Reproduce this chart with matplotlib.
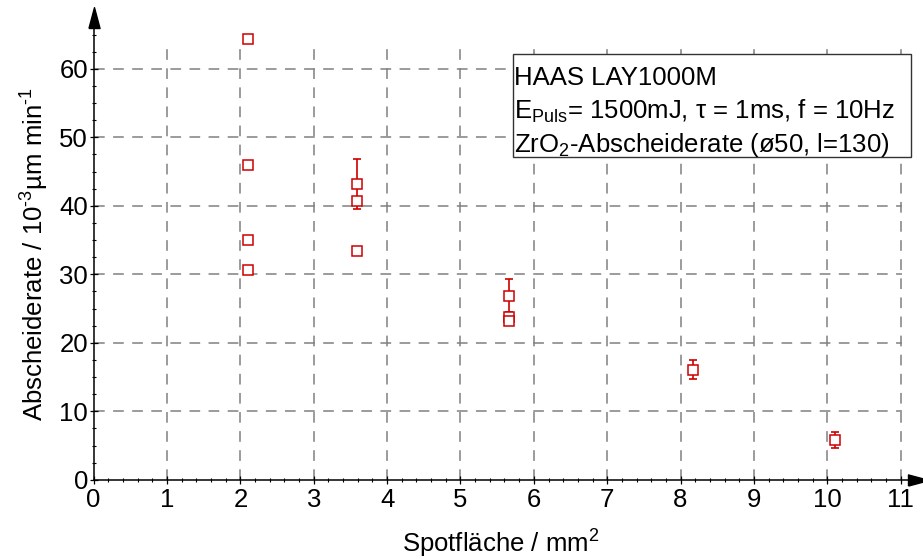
import matplotlib
matplotlib.use("Agg")
import matplotlib.pyplot as plt
import numpy as np
from matplotlib.patches import Rectangle

plt.rcParams['font.family'] = ['Liberation Sans', 'DejaVu Sans']
plt.rcParams['mathtext.fontset'] = 'custom'
plt.rcParams['mathtext.rm'] = 'Liberation Sans'
plt.rcParams['mathtext.it'] = 'Liberation Sans:italic'

# data
spot_area = [2.10, 2.10, 2.10, 2.10, 3.59, 3.59, 3.59, 5.66, 5.66, 5.66, 8.17, 10.10]
rate = [64.3, 45.9, 35.0, 30.7, 43.2, 40.7, 33.4, 26.9, 23.7, 23.2, 16.1, 5.8]
rate_err = [0, 0, 0, 0, 3.6, 0, 0, 2.4, 0, 0, 1.4, 1.2]

x_ticks = list(range(0, 12))
y_ticks = [0, 10, 20, 30, 40, 50, 60]

box_lines = ["HAAS LAY1000M",
             "E$_\\mathregular{Puls}$= 1500mJ, τ = 1ms, f = 10Hz",
             "ZrO$_\\mathregular{2}$-Abscheiderate (ø50, l=130)"]

red = '#cc0000'
grid_col = '#808080'

fig = plt.figure(figsize=(9.23, 5.59), dpi=100)
ax = fig.add_axes([0.1015, 0.1417, 0.8822, 0.8075])
ax.set_xlim(0, 11.1)
ax.set_ylim(0, 65.9)

# dashed grid, limited like in the reference
ax.vlines(x_ticks[1:], 0, 64, colors=grid_col, linewidth=1.1,
          linestyles=(0, (7, 5.5)), zorder=1)
ax.hlines(y_ticks[1:], 0, 11.02, colors=grid_col, linewidth=1.1,
          linestyles=(0, (7, 5.5)), zorder=1)

x = np.array(spot_area)
y = np.array(rate)
e = np.array(rate_err)
m = e > 0
ax.errorbar(x[m], y[m], yerr=e[m], fmt='none', ecolor=red, elinewidth=1.2,
            capsize=3, capthick=1.2, zorder=3)
ax.plot(x, y, 's', mfc='white', mec=red, mew=1.1, ms=7, zorder=4)

# axes with arrows
for s in ['top', 'right']:
    ax.spines[s].set_visible(False)
for s in ['left', 'bottom']:
    ax.spines[s].set_linewidth(1.1)
    ax.spines[s].set_zorder(5)
up = [(-4, 0), (4, 0), (0, 15), (-4, 0)]
right = [(0, -4), (0, 4), (15, 0), (0, -4)]
ax.plot(0, 1, marker=up, ms=30, color='k', transform=ax.transAxes, clip_on=False)
ax.plot(1, 0, marker=right, ms=30, color='k', transform=ax.transAxes, clip_on=False)

ax.set_xticks(x_ticks)
ax.set_yticks(y_ticks)
ax.set_xticks(np.arange(0, 11.01, 0.2), minor=True)
ax.set_yticks(np.arange(0, 65.01, 2.5), minor=True)
ax.tick_params(which='major', direction='inout', length=6, width=0.9,
               labelsize=18.5, pad=1)
ax.tick_params(which='minor', direction='inout', length=3.5, width=0.8)
ax.tick_params(axis='x', pad=3)

ax.set_xlabel('Spotfläche / mm$^\\mathregular{2}$', fontsize=18.5, labelpad=11)
ax.set_ylabel('Abscheiderate / 10$^\\text{-3}$µm min$^\\text{-1}$',
              fontsize=18.5, labelpad=6)

# info box
fig.patches.append(Rectangle((0.5555, 0.7191), 0.4312, 0.1843, transform=fig.transFigure,
                             fill=True, fc='white', ec='#333333', lw=1.0, zorder=6))
for i, t in enumerate(box_lines):
    fig.text(0.5565, 1 - (85 + 33.5 * i) / 559, t, fontsize=18.5, ha='left',
             va='baseline', zorder=7)

fig.savefig('out.png', dpi=100)
